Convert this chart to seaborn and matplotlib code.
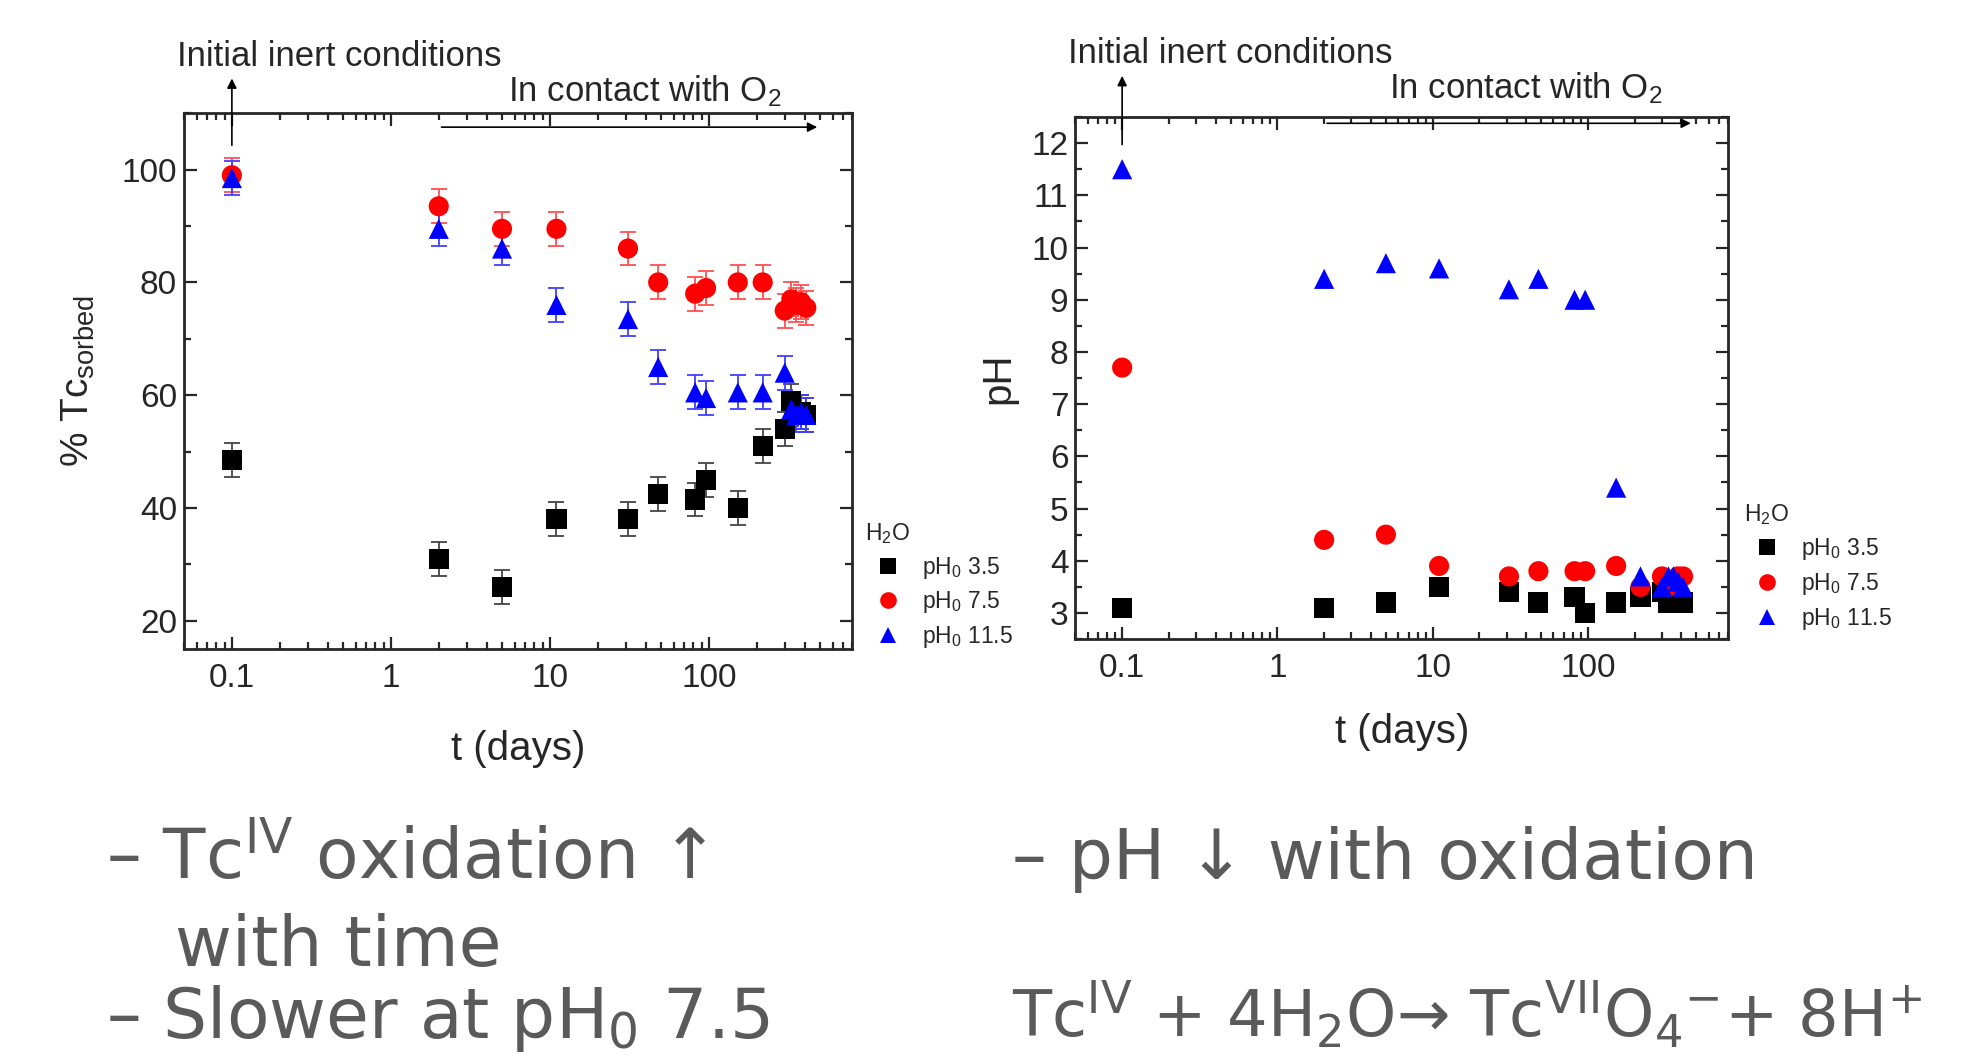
import matplotlib
matplotlib.use("Agg")
import matplotlib.pyplot as plt
from matplotlib.lines import Line2D
import seaborn as sns
import pandas as pd
import numpy as np

# ---------------- data ----------------
t_days = [0.1, 2, 5, 11, 31, 48, 82, 96, 152, 218, 300, 330, 355, 380, 410]
series_names = ["pH0 3.5", "pH0 7.5", "pH0 11.5"]
legend_labels = ["pH$_\\mathregular{0}$ 3.5", "pH$_\\mathregular{0}$ 7.5", "pH$_\\mathregular{0}$ 11.5"]

tc_sorbed_35 = [48.5, 31, 26, 38, 38, 42.5, 41.5, 45, 40, 51, 54, 59, 57, 57, 56.5]
tc_sorbed_75 = [99, 93.5, 89.5, 89.5, 86, 80, 78, 79, 80, 80, 75, 77, 76, 76.5, 75.5]
tc_sorbed_115 = [98.5, 89.5, 86, 76, 73.5, 65, 60.5, 59.5, 60.5, 60.5, 64, 57.5, 56.5, 57, 56.5]
tc_err_35 = [3, 3, 3, 3, 3, 3, 3, 3, 3, 3, 3, 3, 3, 3, 3]
tc_err_75 = [3, 3, 3, 3, 3, 3, 3, 3, 3, 3, 3, 3, 3, 3, 3]
tc_err_115 = [3, 3, 3, 3, 3, 3, 3, 3, 3, 3, 3, 3, 3, 3, 3]

ph_35 = [3.1, 3.1, 3.2, 3.5, 3.4, 3.2, 3.3, 3.0, 3.2, 3.3, 3.4, 3.2, 3.2, 3.2, 3.2]
ph_75 = [7.7, 4.4, 4.5, 3.9, 3.7, 3.8, 3.8, 3.8, 3.9, 3.5, 3.7, 3.5, 3.6, 3.7, 3.7]
ph_115 = [11.5, 9.4, 9.7, 9.6, 9.2, 9.4, 9.0, 9.0, 5.4, 3.7, 3.5, 3.7, 3.7, 3.6, 3.5]

x_ticks = [0.1, 1, 10, 100]
x_tick_labels = ["0.1", "1", "10", "100"]
tc_yticks = [20, 40, 60, 80, 100]
ph_yticks = [3, 4, 5, 6, 7, 8, 9, 10, 11, 12]

colors = {"pH0 3.5": "#000000", "pH0 7.5": "#ff0000", "pH0 11.5": "#0000ff"}
err_colors = {"pH0 3.5": "#444444", "pH0 7.5": "#ff5050", "pH0 11.5": "#4040ff"}
markers = {"pH0 3.5": "s", "pH0 7.5": "o", "pH0 11.5": "^"}

tc_df = pd.DataFrame({
    "t": t_days * 3,
    "val": tc_sorbed_35 + tc_sorbed_75 + tc_sorbed_115,
    "err": tc_err_35 + tc_err_75 + tc_err_115,
    "series": [s for s in series_names for _ in t_days],
})
ph_df = pd.DataFrame({
    "t": t_days * 3,
    "val": ph_35 + ph_75 + ph_115,
    "series": [s for s in series_names for _ in t_days],
})

# ---------------- style ----------------
sns.set_style("ticks")
plt.rcParams["font.family"] = ["Liberation Sans", "DejaVu Sans"]
plt.rcParams["mathtext.fontset"] = "custom"
plt.rcParams["mathtext.rm"] = "Liberation Sans"
plt.rcParams["mathtext.it"] = "Liberation Sans:italic"

fig = plt.figure(figsize=(19.66, 10.61), dpi=100)
axL = fig.add_axes([0.0936, 0.3883, 0.340, 0.505])
axR = fig.add_axes([0.547, 0.3977, 0.332, 0.492])

def style_axis(ax, ylim, yticks, minor_step):
    ax.set_xscale("log")
    ax.set_xlim(0.05, 800)
    ax.set_ylim(*ylim)
    ax.set_xticks(x_ticks)
    ax.set_xticklabels(x_tick_labels)
    ax.set_yticks(yticks)
    ax.yaxis.set_minor_locator(matplotlib.ticker.MultipleLocator(minor_step))
    ax.xaxis.set_minor_locator(matplotlib.ticker.LogLocator(base=10, subs=np.arange(2, 10)))
    ax.xaxis.set_minor_formatter(matplotlib.ticker.NullFormatter())
    ax.tick_params(which="both", direction="in", top=True, right=True, width=1.6)
    ax.tick_params(which="major", length=9, labelsize=24)
    ax.tick_params(axis="y", which="major", pad=5)
    ax.tick_params(axis="x", which="major", pad=10)
    ax.tick_params(which="minor", length=5)
    for sp in ax.spines.values():
        sp.set_linewidth(2)
        sp.set_visible(True)
    ax.grid(False)

# ---------------- left panel ----------------
for s in series_names:
    d = tc_df[tc_df["series"] == s]
    axL.errorbar(d["t"], d["val"], yerr=d["err"], fmt="none", ecolor=err_colors[s],
                 elinewidth=1.3, capsize=6, capthick=1.3, zorder=2)
sns.scatterplot(data=tc_df, x="t", y="val", hue="series", style="series",
                hue_order=series_names, style_order=series_names,
                palette=colors, markers=markers, s=210, edgecolor="none",
                legend=False, ax=axL, zorder=3)
style_axis(axL, (15, 110), tc_yticks, 10)
axL.set_xlabel("t (days)", fontsize=29, labelpad=26)
axL.set_ylabel("% Tc$_\\mathregular{sorbed}$", fontsize=28, labelpad=18)

# ---------------- right panel ----------------
sns.scatterplot(data=ph_df, x="t", y="val", hue="series", style="series",
                hue_order=series_names, style_order=series_names,
                palette=colors, markers=markers, s=210, edgecolor="none",
                legend=False, ax=axR, zorder=3)
style_axis(axR, (2.5, 12.5), ph_yticks, 0.5)
axR.set_xlabel("t (days)", fontsize=29, labelpad=21)
axR.set_ylabel("pH", fontsize=29, labelpad=10)

# ---------------- annotations ----------------
def annotate(ax, v_start, v_end, txt1_xy, txt2_xy, h_y, h_x0, h_x1):
    ax.annotate("", xy=(0.1, v_end), xytext=(0.1, v_start),
                xycoords=("data", "axes fraction"), textcoords=("data", "axes fraction"),
                arrowprops=dict(arrowstyle="-|>", color="black", lw=1.2, mutation_scale=14),
                annotation_clip=False)
    ax.annotate("", xy=(h_x1, h_y), xytext=(h_x0, h_y),
                xycoords=("data", "axes fraction"), textcoords=("data", "axes fraction"),
                arrowprops=dict(arrowstyle="-|>", color="black", lw=1.2, mutation_scale=14),
                annotation_clip=False)
    ax.text(txt1_xy[0], txt1_xy[1], "Initial inert conditions", transform=ax.transAxes,
            fontsize=25, ha="left", va="baseline")
    ax.text(txt2_xy[0], txt2_xy[1], "In contact with O$_\\mathregular{2}$", transform=ax.transAxes,
            fontsize=25, ha="left", va="baseline")

annotate(axL, 0.935, 1.07, (-0.011, 1.089), (0.484, 1.023), 0.974, 2, 500)
annotate(axR, 0.942, 1.084, (-0.012, 1.103), (0.481, 1.036), 0.988, 2, 480)

# ---------------- legends ----------------
def make_legend(ax, anchor):
    handles = [Line2D([], [], linestyle="none", marker=markers[s], color=colors[s],
                      markersize=12, markeredgewidth=0) for s in series_names]
    leg = ax.legend(handles, legend_labels, title="H$_\\mathregular{2}$O", loc="upper left",
                    bbox_to_anchor=anchor, frameon=False, fontsize=16.5, title_fontsize=16.5,
                    handletextpad=0.5, labelspacing=0.38, borderaxespad=0, handlelength=2.0)
    leg._legend_box.align = "left"

make_legend(axL, (1.005, 0.256))
make_legend(axR, (1.01, 0.279))

# ---------------- bottom text ----------------
gray = "#5a5a5a"
bfont = ["DejaVu Sans"]
bsize = 50
fig.text(0.054, 0.172, "– Tc$^{\\mathregular{IV}}$ oxidation ↑", fontsize=bsize, color=gray,
         family=bfont, va="baseline")
fig.text(0.089, 0.090, "with time", fontsize=bsize, color=gray, family=bfont, va="baseline")
fig.text(0.054, 0.022, "– Slower at pH$_{\\mathregular{0}}$ 7.5", fontsize=bsize, color=gray,
         family=bfont, va="baseline")
fig.text(0.515, 0.172, "– pH ↓ with oxidation", fontsize=bsize, color=gray, family=bfont,
         va="baseline")
fig.text(0.515, 0.022,
         "Tc$^{\\mathregular{IV}}$ + 4H$_{\\mathregular{2}}$O→ Tc$^{\\mathregular{VII}}$O$_{\\mathregular{4}}$$^{\\mathregular{-}}$+ 8H$^{\\mathregular{+}}$",
         fontsize=46, color=gray, family=bfont, va="baseline")

fig.savefig("out.png", dpi=100)
